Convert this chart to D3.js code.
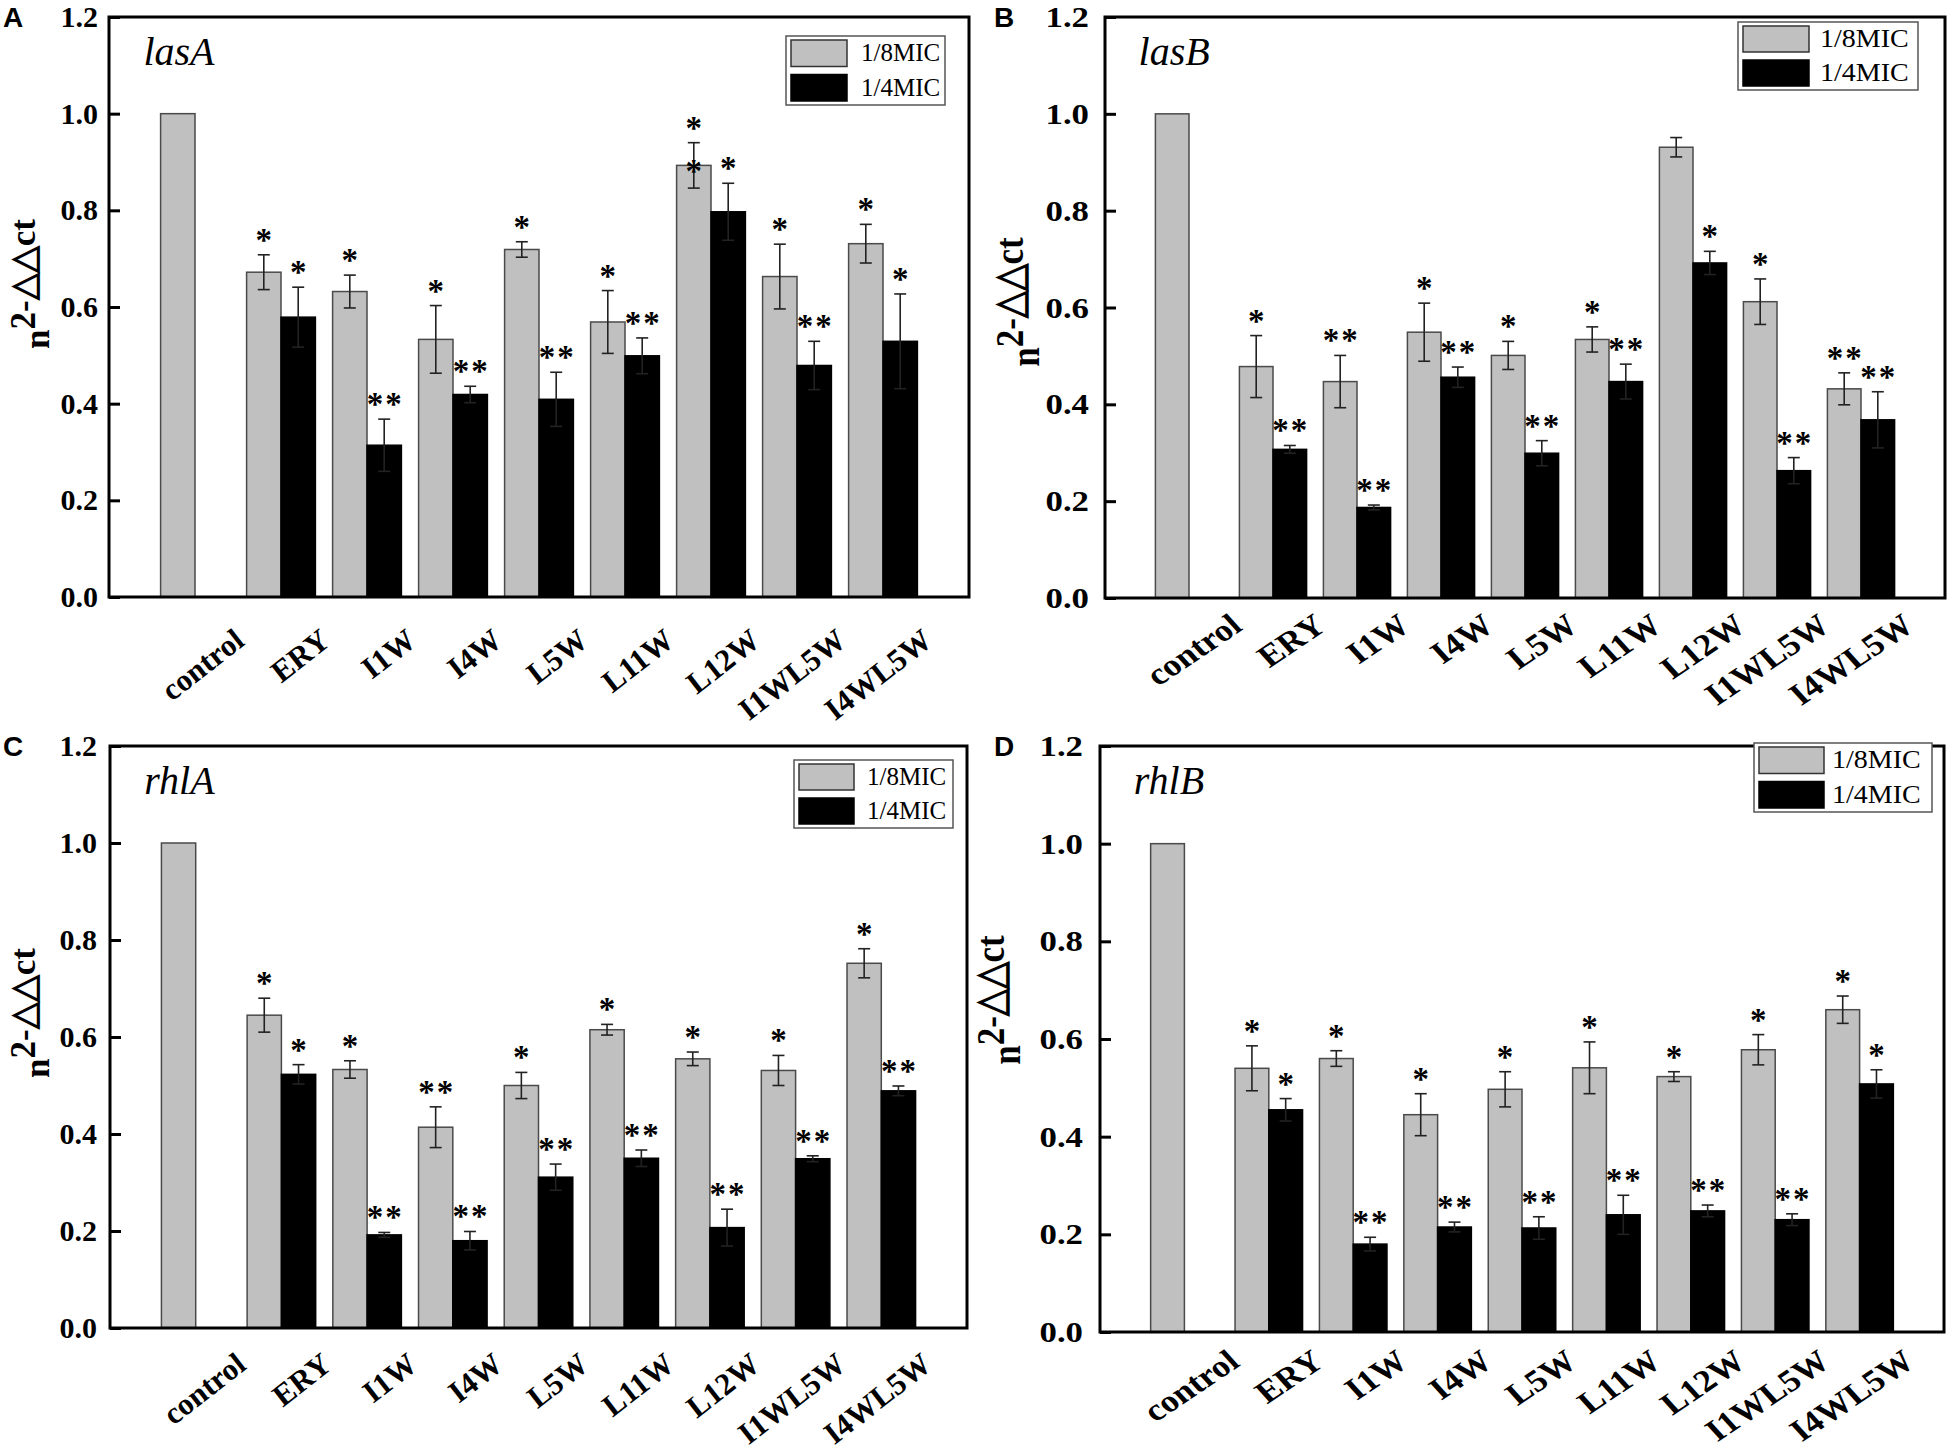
<!DOCTYPE html>
<html>
<head>
<meta charset="utf-8">
<script src="https://cdn.jsdelivr.net/npm/d3@7"></script>
<style>
  body { margin: 0; background: #fff; }
</style>
</head>
<body>
<script>
// categories and tick values shared by all four panels
var categories = ["control", "ERY", "I1W", "I4W", "L5W", "L11W", "L12W", "I1WL5W", "I4WL5W"];
var seriesNames = ["1/8MIC", "1/4MIC"];
var yTickValues = [0, 0.2, 0.4, 0.6, 0.8, 1.0, 1.2];

// lasA
var lasA_low     = [1.0, 0.672, 0.632, 0.533, 0.719, 0.569, 0.893, 0.663, 0.731];
var lasA_lowErr  = [0, 0.036, 0.034, 0.070, 0.016, 0.065, 0.047, 0.067, 0.040];
var lasA_high    = [null, 0.579, 0.314, 0.419, 0.409, 0.499, 0.797, 0.479, 0.529];
var lasA_highErr = [0, 0.062, 0.054, 0.017, 0.056, 0.037, 0.059, 0.050, 0.098];
var lasA_lowSig  = ["", "*", "*", "*", "*", "*", "*\n*", "*", "*"];
var lasA_highSig = ["", "*", "**", "**", "**", "**", "*", "**", "*"];

// lasB
var lasB_low     = [1.0, 0.478, 0.447, 0.549, 0.501, 0.534, 0.931, 0.612, 0.432];
var lasB_lowErr  = [0, 0.064, 0.054, 0.060, 0.029, 0.026, 0.020, 0.047, 0.033];
var lasB_high    = [null, 0.307, 0.187, 0.456, 0.299, 0.447, 0.692, 0.263, 0.368];
var lasB_highErr = [0, 0.008, 0.005, 0.021, 0.026, 0.036, 0.024, 0.027, 0.058];
var lasB_lowSig  = ["", "*", "**", "*", "*", "*", "", "*", "**"];
var lasB_highSig = ["", "**", "**", "**", "**", "**", "*", "**", "**"];

// rhlA
var rhlA_low     = [1.0, 0.645, 0.533, 0.414, 0.500, 0.615, 0.555, 0.531, 0.752];
var rhlA_lowErr  = [0, 0.035, 0.018, 0.042, 0.027, 0.011, 0.014, 0.031, 0.030];
var rhlA_high    = [null, 0.523, 0.192, 0.180, 0.311, 0.350, 0.207, 0.349, 0.489];
var rhlA_highErr = [0, 0.020, 0.005, 0.019, 0.027, 0.017, 0.038, 0.006, 0.010];
var rhlA_lowSig  = ["", "*", "*", "**", "*", "*", "*", "*", "*"];
var rhlA_highSig = ["", "*", "**", "**", "**", "**", "**", "**", "**"];

// rhlB
var rhlB_low     = [1.0, 0.540, 0.560, 0.445, 0.497, 0.541, 0.523, 0.578, 0.660];
var rhlB_lowErr  = [0, 0.046, 0.016, 0.043, 0.036, 0.053, 0.010, 0.031, 0.028];
var rhlB_high    = [null, 0.455, 0.180, 0.215, 0.213, 0.240, 0.248, 0.230, 0.508];
var rhlB_highErr = [0, 0.023, 0.014, 0.010, 0.023, 0.040, 0.012, 0.012, 0.029];
var rhlB_lowSig  = ["", "*", "*", "*", "*", "*", "*", "*", "*"];
var rhlB_highSig = ["", "*", "**", "**", "**", "**", "**", "**", "*"];

var serif = "'Liberation Serif','Times New Roman',serif";
var sans = "'Liberation Sans',Arial,sans-serif";
var grayFill = "#c0c0c0";

var W = 1950, H = 1454;
var svg = d3.select("body").append("svg")
    .attr("width", W)
    .attr("height", H)
    .style("display", "block");

// sx = horizontal stretch of the right-hand panels in the source figure
var panels = [
  {letter: "A", gene: "lasA", low: lasA_low, lowErr: lasA_lowErr, high: lasA_high, highErr: lasA_highErr,
   lowSig: lasA_lowSig, highSig: lasA_highSig,
   left: 109, right: 969, top: 17, bottom: 597, letterX: 3, tickPad: 11, sx: 1.0,
   titleX: 49, titleY: 284, labelDx: 51, labelDy: 47,
   legend: {x: 786, y: 36, w: 159, h: 69, sw: 56, tx: 75}},
  {letter: "B", gene: "lasB", low: lasB_low, lowErr: lasB_lowErr, high: lasB_high, highErr: lasB_highErr,
   lowSig: lasB_lowSig, highSig: lasB_highSig,
   left: 1105, right: 1945, top: 17, bottom: 598, letterX: 994, tickPad: 16, sx: 1.16,
   titleX: 1039, titleY: 302, labelDx: 55, labelDy: 31,
   legend: {x: 1738, y: 22, w: 180, h: 68, sw: 66, tx: 82}},
  {letter: "C", gene: "rhlA", low: rhlA_low, lowErr: rhlA_lowErr, high: rhlA_high, highErr: rhlA_highErr,
   lowSig: rhlA_lowSig, highSig: rhlA_highSig,
   left: 110, right: 967, top: 746, bottom: 1328, letterX: 3, tickPad: 13, sx: 1.0,
   titleX: 49, titleY: 1013, labelDx: 52, labelDy: 40,
   legend: {x: 794, y: 760, w: 159, h: 68, sw: 55, tx: 73}},
  {letter: "D", gene: "rhlB", low: rhlB_low, lowErr: rhlB_lowErr, high: rhlB_high, highErr: rhlB_highErr,
   lowSig: rhlB_lowSig, highSig: rhlB_highSig,
   left: 1100, right: 1944, top: 746, bottom: 1332, letterX: 994, tickPad: 17, sx: 1.16,
   titleX: 1020, titleY: 1000, labelDx: 57, labelDy: 33,
   legend: {x: 1754, y: 743, w: 178, h: 69, sw: 65, tx: 78}}
];

panels.forEach(drawPanel);

function drawPanel(p) {
  var g = svg.append("g");

  var x = d3.scaleLinear().domain([0, 10]).range([p.left, p.right]);
  var y = d3.scaleLinear().domain([0, 1.2]).range([p.bottom, p.top]);
  var bw = 0.4;

  // build bar records from the arrays
  var bars = [];
  categories.forEach(function(c, i) {
    bars.push({i: i, s: 0, v: p.low[i], e: p.lowErr[i], sig: p.lowSig[i]});
    if (p.high[i] != null)
      bars.push({i: i, s: 1, v: p.high[i], e: p.highErr[i], sig: p.highSig[i]});
  });
  function x0(d) { return d.s === 0 ? x(d.i + 1 - bw) : x(d.i + 1); }
  function cx(d) { return x0(d) + (x(bw) - x(0)) / 2; }

  g.selectAll("rect.bar")
    .data(bars)
    .enter().append("rect")
      .attr("class", "bar")
      .attr("x", x0)
      .attr("width", x(bw) - x(0))
      .attr("y", function(d) { return y(d.v); })
      .attr("height", function(d) { return y(0) - y(d.v); })
      .attr("fill", function(d) { return d.s === 0 ? grayFill : "#000"; })
      .attr("stroke", function(d) { return d.s === 0 ? "#4a4a4a" : "#000"; })
      .attr("stroke-width", 1.5);

  // error bars
  var eb = g.selectAll("g.err")
    .data(bars.filter(function(d) { return d.e > 0; }))
    .enter().append("g")
      .attr("class", "err")
      .attr("stroke", "#222")
      .attr("stroke-width", 1.6);
  eb.append("line")
    .attr("x1", cx).attr("x2", cx)
    .attr("y1", function(d) { return y(d.v + d.e); })
    .attr("y2", function(d) { return y(d.v - d.e); });
  eb.append("line")
    .attr("x1", function(d) { return cx(d) - 6; }).attr("x2", function(d) { return cx(d) + 6; })
    .attr("y1", function(d) { return y(d.v + d.e); })
    .attr("y2", function(d) { return y(d.v + d.e); });
  eb.append("line")
    .attr("x1", function(d) { return cx(d) - 6; }).attr("x2", function(d) { return cx(d) + 6; })
    .attr("y1", function(d) { return y(d.v - d.e); })
    .attr("y2", function(d) { return y(d.v - d.e); });

  // significance stars
  var st = g.selectAll("text.sig")
    .data(bars.filter(function(d) { return d.sig; }))
    .enter().append("text")
      .attr("class", "sig")
      .attr("text-anchor", "middle")
      .attr("font-family", serif)
      .attr("font-weight", "bold")
      .attr("font-size", 33)
      .attr("letter-spacing", 2);
  st.each(function(d) {
    var lines = d.sig.split("\n");
    var t = d3.select(this);
    lines.forEach(function(s, k) {
      t.append("tspan")
        .attr("x", cx(d) + 1)
        .attr("y", y(d.v + d.e) - 4 + k * 43)
        .text(s);
    });
  });

  // y axis (ticks inward)
  var yAxis = d3.axisLeft(y)
    .tickValues(yTickValues)
    .tickFormat(d3.format(".1f"))
    .tickSizeInner(-11)
    .tickSizeOuter(0)
    .tickPadding(p.tickPad);
  var ya = g.append("g")
    .attr("transform", "translate(" + p.left + ",0)")
    .call(yAxis);
  ya.select(".domain").remove();
  ya.selectAll(".tick line").attr("stroke", "#000").attr("stroke-width", 3);
  ya.selectAll(".tick text")
    .attr("font-family", serif)
    .attr("font-weight", "bold")
    .attr("font-size", 30)
    .attr("fill", "#000")
    .attr("x", -p.tickPad / p.sx)
    .attr("transform", "scale(" + p.sx + ",1)");

  // frame
  g.append("rect")
    .attr("x", p.left).attr("y", p.top)
    .attr("width", p.right - p.left).attr("height", p.bottom - p.top)
    .attr("fill", "none")
    .attr("stroke", "#000")
    .attr("stroke-width", 3);

  // x category labels, anchored at their end and rotated
  categories.forEach(function(c, i) {
    var ax = x(i + 1) + p.labelDx, ay = p.bottom + p.labelDy;
    g.append("text")
      .attr("transform", "translate(" + ax + "," + ay + ") scale(" + p.sx + ",1) rotate(-38)")
      .attr("text-anchor", "end")
      .attr("font-family", serif)
      .attr("font-weight", "bold")
      .attr("font-size", 31)
      .text(c);
  });

  // y title
  var yt = g.append("text")
    .attr("transform", "translate(" + p.titleX + "," + p.titleY + ") scale(" + p.sx + ",1) rotate(-90)")
    .attr("text-anchor", "middle")
    .attr("font-family", serif)
    .attr("font-weight", "bold")
    .attr("font-size", 35);
  yt.append("tspan").text("n");
  yt.append("tspan").attr("dy", "-0.4em").text("2-\u25B3\u25B3ct");

  // gene name
  g.append("text")
    .attr("x", x(bw))
    .attr("y", p.top + 48)
    .attr("font-family", serif)
    .attr("font-style", "italic")
    .attr("font-size", 40)
    .text(p.gene);

  // panel letter
  g.append("text")
    .attr("x", p.letterX)
    .attr("y", p.top + 10)
    .attr("font-family", sans)
    .attr("font-weight", "bold")
    .attr("font-size", 28)
    .text(p.letter);

  // legend
  var L = p.legend;
  var lg = g.append("g");
  lg.append("rect")
    .attr("x", L.x).attr("y", L.y).attr("width", L.w).attr("height", L.h)
    .attr("fill", "#fff").attr("stroke", "#555").attr("stroke-width", 1.5);
  var rowH = (L.h - 8) / 2;
  seriesNames.forEach(function(name, k) {
    var ry = L.y + 4 + k * (rowH + 4);
    lg.append("rect")
      .attr("x", L.x + 5).attr("y", ry)
      .attr("width", L.sw).attr("height", rowH - 4)
      .attr("fill", k === 0 ? grayFill : "#000")
      .attr("stroke", k === 0 ? "#333" : "#000")
      .attr("stroke-width", 1.5);
    lg.append("text")
      .attr("transform", "translate(" + (L.x + L.tx) + "," + (ry + (rowH - 4) / 2 + 8) + ") scale(" + (p.sx > 1 ? 1.12 : 1) + ",1)")
      .attr("font-family", serif)
      .attr("font-size", 25)
      .text(name);
  });
}
</script>
</body>
</html>
